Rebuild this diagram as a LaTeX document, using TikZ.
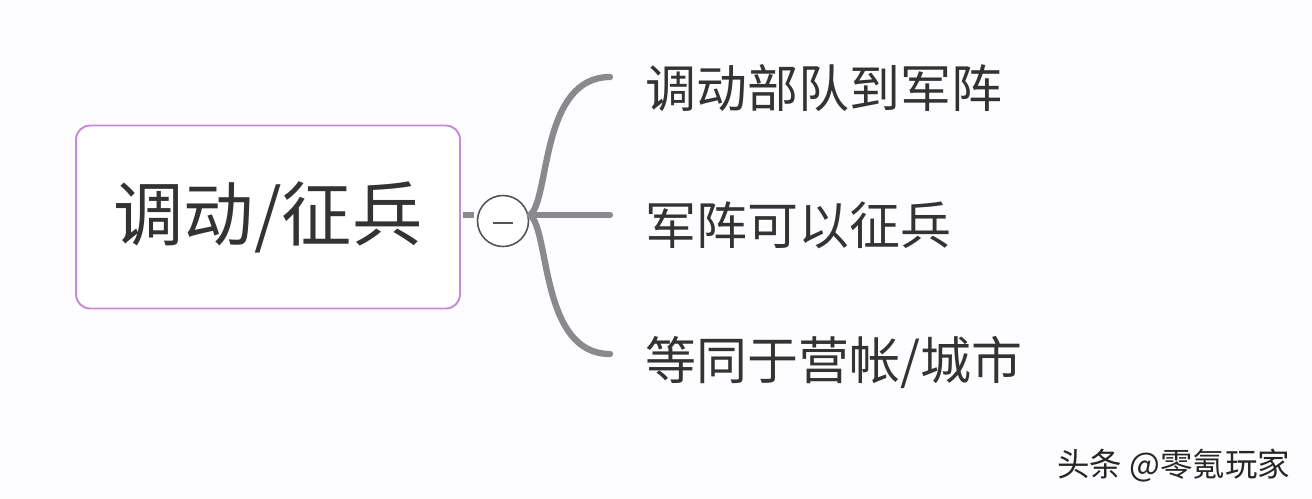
\documentclass[tikz,border=0pt]{standalone}
\usepackage{fontspec}
\setmainfont{Noto Sans CJK SC}
\usetikzlibrary{positioning, calc}
\usepackage{xcolor}
\definecolor{bgpaper}{HTML}{FDFCFE}
\definecolor{rootline}{HTML}{C58BD6}
\definecolor{branchgray}{HTML}{8A898C}
\definecolor{inkgray}{HTML}{333333}
\definecolor{foldgray}{HTML}{555555}

\begin{document}
\begin{tikzpicture}[
        x=0.02cm, y=-0.02cm,
        root/.style={rectangle, draw=rootline, line width=1.1pt, rounded corners=8pt, fill=white, minimum width=7.68cm, minimum height=3.66cm, font=\fontsize{40}{44}\selectfont, text=inkgray},
        fold/.style={circle, draw=foldgray, line width=0.9pt, fill=white, minimum size=1.02cm, inner sep=0pt},
        topic/.style={anchor=west, inner sep=0pt, font=\fontsize{29}{33}\selectfont, text=inkgray},
        link/.style={draw=branchgray, line width=3.6pt, line cap=round}
    ]
        % Canvas
        \fill[bgpaper] (0,0) rectangle (1312,498);
        \useasboundingbox (0,0) rectangle (1312,498);

        % Root and fold button
        \node (main) [root] at (268,217) {调动/征兵};
        \node (fold) [fold] at (503,221) {};
        \draw[foldgray, line width=0.9pt] ($(fold.center)+(-10,2)$) -- ($(fold.center)+(10,2)$);

        % Topics
        \node (t1) [topic] at (645,88) {调动部队到军阵};
        \node (t2) [topic] at (645,225) {军阵可以征兵};
        \node (t3) [topic] at (645,362) {等同于营帐/城市};

        % Branch ends
        \coordinate (hub) at (530,215);
        \coordinate (e1) at (610,77);
        \coordinate (e2) at (610,215);
        \coordinate (e3) at (610,354);

        % Links
        \draw [link, line cap=butt] ($(main.east)+(2,-2)$) coordinate (stub) -- ++(11,0);
        \draw [link] (hub) .. controls (550,200) and (540,77) .. (e1);
        \draw [link] (hub) -- (e2);
        \draw [link] (hub) .. controls (550,230) and (540,354) .. (e3);

        % Watermark
        \node (mark) [anchor=west, inner sep=0pt, font=\fontsize{18.5}{20}\selectfont, text=black!85] at (1057,466) {头条 @零氪玩家};
    \end{tikzpicture}
\end{document}
